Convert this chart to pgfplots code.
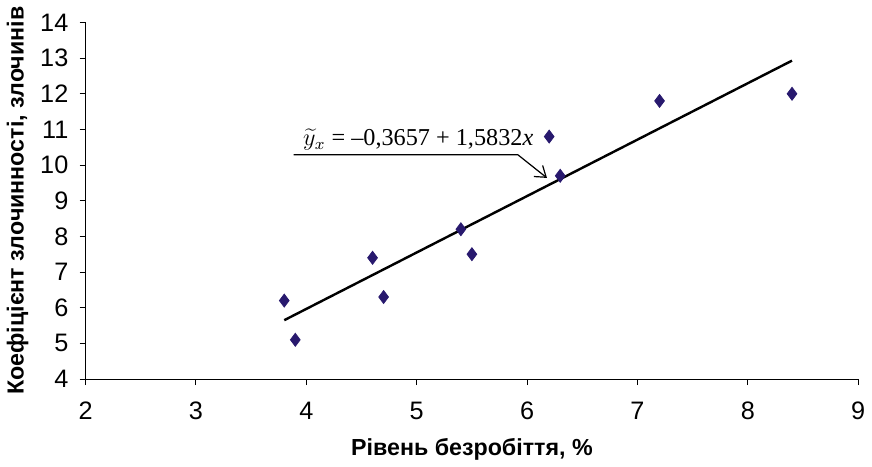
\documentclass[border=0pt]{standalone}
\usepackage{fontspec}
\setmainfont{Liberation Sans}
\newfontfamily\tnr{Liberation Serif}
\usepackage{pgfplots}
\pgfplotsset{compat=1.18}
\usetikzlibrary{arrows.meta}
\definecolor{ptnavy}{RGB}{40,25,110}

\begin{document}
\begin{tikzpicture}
\begin{axis}[
  scale only axis, width=382.5pt, height=176.5pt,
  xmin=2, xmax=9, ymin=4, ymax=14,
  xtick={2,...,9}, ytick={4,...,14},
  axis lines=left, axis line style={-, line width=0.5pt},
  tick align=outside, major tick length=3pt,
  tick style={black, line width=0.5pt},
  /pgf/number format/assume math mode=true,
  tick label style={font=\fontsize{12.5}{14}\selectfont},
  xticklabel style={yshift=-5pt},
  yticklabel style={xshift=-2pt},
  xlabel={\bfseries Рівень безробіття, \%},
  ylabel={\bfseries Коефіцієнт злочинності, злочинів},
  label style={font=\fontsize{11.5}{13}\selectfont},
  xlabel style={yshift=-2pt},
  ylabel style={yshift=-1pt},
  clip=false,
]
\addplot[only marks, mark=diamond*, mark size=3.2pt, ptnavy, mark options={fill=ptnavy, draw=ptnavy}]
  coordinates {(3.8,6.2) (3.9,5.1) (4.6,7.4) (4.7,6.3) (5.4,8.2) (5.5,7.5) (6.2,10.8) (6.3,9.7) (7.2,11.8) (8.4,12.0)};
\addplot[black, line width=1.2pt] coordinates {(3.8,5.65) (8.4,12.93)};
\draw[line width=0.6pt, -{Straight Barb[length=5pt, width=7pt]}]
  (axis cs:3.885,10.29) -- (axis cs:5.916,10.29) -- (axis cs:6.18,9.64);
\node[anchor=south west, inner sep=1pt, font=\fontsize{12}{13}\selectfont\tnr] at (axis cs:3.95,10.35)
  {$\widetilde{y}_x$ = –0,3657 + 1,5832\textit{x}};
\end{axis}
\end{tikzpicture}
\end{document}
